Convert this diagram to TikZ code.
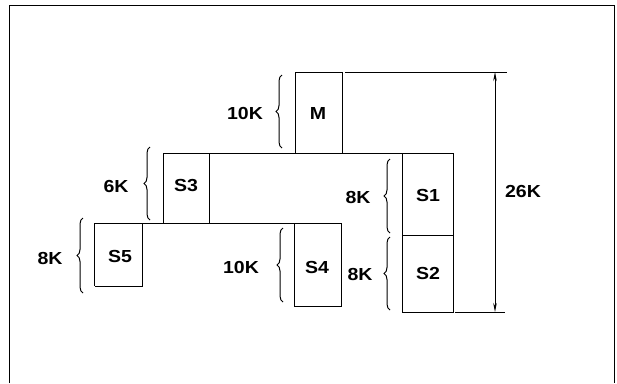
\documentclass[tikz,border=0pt]{standalone}
\usepackage{fontspec}
\setmainfont{Liberation Sans}[FakeStretch=1.12]
\usetikzlibrary{arrows.meta,decorations.pathreplacing}

\begin{document}
\begin{tikzpicture}[x=1bp,y=-1bp,line width=1bp,
  font=\fontsize{17.5}{20}\selectfont\bfseries,
  brc/.style={decorate,decoration={brace,amplitude=6bp}}]
\useasboundingbox (0,0) rectangle (617,383);
% --- frame, open at the bottom ---
\draw (9,383) -- (9,5) -- (614,5) -- (614,383);
% --- the segments, one level under the other ---
\draw (295,72) rectangle (342,153);
\draw (163,223) -- (163,153) -- (453,153);
\draw (209,153) -- (209,223);
\draw (402,153) rectangle (453,312);
\draw (402,235) -- (453,235);
\draw (94.5,286) -- (94.5,223) -- (341,223) -- (341,306) -- (294,306) -- (294,223);
\draw (142.5,223) -- (142.5,286) -- (94.5,286);
\node (m) at (318,113) {M};
\node (s3) at (186,186) {S3};
\node (s1) at (428,195) {S1};
\node (s2) at (428,273) {S2};
\node (s5) at (120,256) {S5};
\node (s4) at (317,267) {S4};
% --- sizes ---
\draw[brc] (282,148) -- (282,75);
\draw[brc] (150,220) -- (150,147);
\draw[brc] (390,233) -- (390,159);
\draw[brc] (390,310) -- (390,237);
\draw[brc] (83,293) -- (83,218);
\draw[brc] (283,302) -- (283,228);
\node (mk) at (245,113) {10K};
\node (s3k) at (116,186) {6K};
\node (s1k) at (358,197) {8K};
\node (s2k) at (360,274) {8K};
\node (s5k) at (50,258) {8K};
\node (s4k) at (241,267) {10K};
% --- overall length ---
\coordinate (dimtop) at (495,72);
\coordinate (dimbot) at (495,312);
\draw (345,72) -- (507,72);
\draw (455,312) -- (505,312);
\draw[{Stealth[length=9bp,width=3.5bp]}-{Stealth[length=9bp,width=3.5bp]},line width=0.7bp] (dimtop) -- (dimbot);
\node (total) at (523,191) {26K};
\end{tikzpicture}
\end{document}
